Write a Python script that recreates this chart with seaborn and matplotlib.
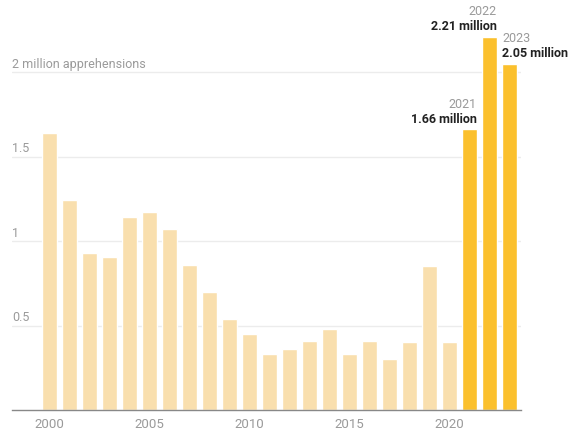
import seaborn as sns
import matplotlib.pyplot as plt
import pandas as pd

# apprehensions par année fiscale (millions)
years = list(range(2000, 2024))
apprehensions = [1.64, 1.24, 0.93, 0.905, 1.14, 1.17, 1.07, 0.86, 0.70, 0.54,
                 0.45, 0.33, 0.36, 0.41, 0.48, 0.33, 0.41, 0.30, 0.40, 0.85,
                 0.40, 1.66, 2.21, 2.05]
highlight_years = [2021, 2022, 2023]
value_labels = {2021: "1.66 million", 2022: "2.21 million", 2023: "2.05 million"}
ytick_vals = [0.5, 1, 1.5, 2]
ytick_labels = ["0.5", "1", "1.5", "2 million apprehensions"]
xtick_vals = [2000, 2005, 2010, 2015, 2020]

df = pd.DataFrame({"year": years, "value": apprehensions})
df["group"] = ["recent" if y in highlight_years else "past" for y in df["year"]]

sns.set_style("white")
plt.rcParams["font.family"] = ["Roboto", "DejaVu Sans"]

W, H = 569, 431
fig = plt.figure(figsize=(W / 100, H / 100), dpi=100)
left_px, right_px, base_px = 12, 521, 411
ax = fig.add_axes([left_px / W, (H - base_px) / H, (right_px - left_px) / W, base_px / H])

sns.barplot(data=df, x="year", y="value", hue="group", native_scale=True,
            palette={"past": "#F9DFAE", "recent": "#FBC02D"}, width=0.75,
            dodge=False, legend=False, saturation=1, ax=ax, zorder=2)

x0 = 2000 - (49.5 - left_px) / 20
x1 = 2000 + (right_px - 49.5) / 20
ax.set_xlim(x0, x1)
ax.set_ylim(0, base_px / 169)

# grille + labels y posés au-dessus des lignes
ax.set_yticks(ytick_vals)
ax.set_yticklabels([])
ax.tick_params(axis="y", length=0)
ax.grid(axis="y", color="#ececec", linewidth=1, zorder=0)
for v, lab in zip(ytick_vals, ytick_labels):
    ax.annotate(lab, xy=(0, v), xycoords=("axes fraction", "data"),
                xytext=(0, 1.5), textcoords="offset points",
                ha="left", va="bottom", fontsize=9, color="#9a9a9a")

ax.set_xticks(xtick_vals)
ax.set_xticklabels([str(x) for x in xtick_vals])
ax.tick_params(axis="x", length=3, width=1, color="#888888", labelcolor="#9a9a9a",
               labelsize=9.5, pad=2)

for s in ["top", "right", "left"]:
    ax.spines[s].set_visible(False)
ax.spines["bottom"].set_color("#888888")
ax.spines["bottom"].set_linewidth(1)
ax.set_xlabel("")
ax.set_ylabel("")

# annotations des années récentes
for y in highlight_years:
    v = df.loc[df["year"] == y, "value"].iloc[0]
    if y == 2023:
        xa, ha = y - 0.375, "left"
    else:
        xa, ha = y + 0.375, "right"
    ax.annotate(value_labels[y], xy=(xa, v), xytext=(0, 3), textcoords="offset points",
                ha=ha, va="bottom", fontsize=9, fontweight="bold", color="#222222",
                annotation_clip=False)
    ax.annotate(str(y), xy=(xa, v), xytext=(0, 14), textcoords="offset points",
                ha=ha, va="bottom", fontsize=9, color="#9a9a9a",
                annotation_clip=False)

fig.savefig("out.png", dpi=100)
